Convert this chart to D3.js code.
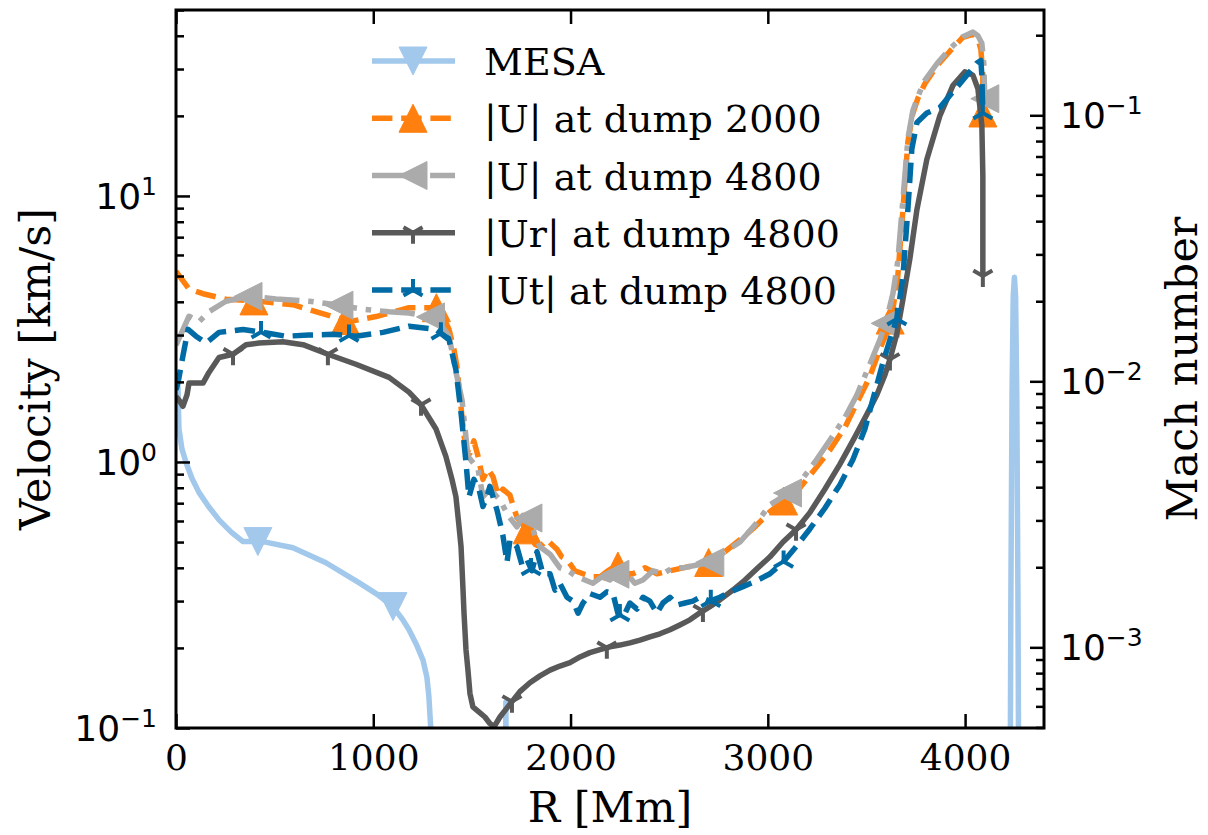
<!DOCTYPE html>
<html>
<head>
<meta charset="utf-8">
<script src="https://cdn.jsdelivr.net/npm/d3@7"></script>
<style>
    body { margin: 0; background: #fff; }
    text { font-family: "DejaVu Serif", serif; fill: #000; }
    .math { font-family: "DejaVu Sans", sans-serif; }
</style>
</head>
<body>
<svg id="chart" width="1208" height="835"></svg>
<script>
// R [Mm] and velocity [km/s]
var mesaR = [0, 10, 15, 30, 51, 80, 117, 165, 218, 280, 340, 441, 593, 760, 927, 1020, 1100, 1150, 1181, 1220, 1252, 1272, 1282, 1292, 1300,
    1666, 1672, 1678, 1700, 4225, 4232, 4238, 4244, 4250, 4256, 4262, 4268, 4276];
var mesaV = [2.0, 1.91, 1.33, 1.12, 0.995, 0.87, 0.767, 0.68, 0.606, 0.545, 0.502, 0.502, 0.476, 0.418, 0.352, 0.318, 0.286, 0.255, 0.234, 0.205, 0.180, 0.155, 0.131, 0.098, 0.05,
    0.02, 0.125, 0.02, 0.01, 0.01, 0.3, 1.8, 4.2, 4.95, 4.2, 1.8, 0.3, 0.01];

var u2000R = [0, 66, 137, 253, 421, 593, 760, 877, 1014, 1181, 1333, 1384, 1409, 1424, 1439, 1455, 1470, 1490, 1510, 1531,
    1556, 1581, 1607, 1632, 1657, 1693, 1710, 1728, 1759, 1794, 1820, 1845, 1880, 1931, 1955, 1982, 2022, 2063, 2108, 2149, 2190, 2235,
    2276, 2316, 2377, 2438, 2504, 2570, 2641, 2706, 2783, 2859, 2935, 3011, 3087, 3163, 3239, 3315, 3391, 3452, 3517, 3568,
    3604, 3634, 3659, 3685, 3710, 3735, 3761, 3796, 3857, 3923, 3989, 4040, 4065, 4080, 4090, 4090];
var u2000V = [5.2, 4.47, 4.29, 4.09, 4.02, 3.9, 3.58, 3.37, 3.52, 3.8, 3.8, 3.15, 2.65, 2.29, 1.77, 1.36, 1.1, 1.08, 1.2, 1.05,
    0.86, 0.94, 0.88, 0.75, 0.79, 0.75, 0.68, 0.62, 0.58, 0.54, 0.49, 0.48, 0.51, 0.47, 0.44, 0.43, 0.39, 0.38, 0.37, 0.37, 0.39, 0.41,
    0.38, 0.38, 0.40, 0.38, 0.39, 0.40, 0.41, 0.42, 0.46, 0.51, 0.57, 0.65, 0.72, 0.80, 0.94, 1.11, 1.35, 1.67, 2.09, 2.66,
    3.07, 3.75, 5.0, 8.9, 16, 20.4, 23.3, 26.4, 30.8, 35, 39.5, 40.5, 39, 35.5, 28.5, 20.5];

var u4800R = [0, 66, 117, 167, 253, 370, 507, 674, 811, 948, 1080, 1181, 1318, 1384, 1419, 1450, 1480, 1505, 1531, 1556,
    1591, 1642, 1683, 1728, 1759, 1794, 1820, 1845, 1896, 1946, 1987, 2033, 2073, 2113, 2159, 2200, 2240, 2286, 2326, 2367, 2418,
    2468, 2519, 2570, 2641, 2706, 2783, 2859, 2935, 3011, 3087, 3163, 3239, 3315, 3391, 3452, 3517, 3568, 3604, 3634, 3659,
    3685, 3710, 3735, 3761, 3796, 3857, 3923, 3989, 4040, 4065, 4085, 4095, 4100];
var u4800V = [2.75, 3.53, 3.37, 3.67, 4.02, 4.2, 4.1, 4.02, 3.9, 3.75, 3.67, 3.63, 3.48, 2.97, 2.18, 1.71, 1.05, 0.995, 0.94, 0.74,
    0.79, 0.72, 0.63, 0.57, 0.63, 0.61, 0.53, 0.48, 0.45, 0.40, 0.39, 0.37, 0.36, 0.35, 0.37, 0.36, 0.39, 0.38, 0.35, 0.36, 0.39,
    0.38, 0.40, 0.40, 0.41, 0.42, 0.46, 0.50, 0.58, 0.69, 0.75, 0.84, 1.0, 1.21, 1.47, 1.79, 2.33, 2.88, 3.48, 4.29, 5.7,
    9.7, 16.4, 20.9, 23.7, 27.2, 31.4, 35.8, 39.7, 41.3, 40, 37.5, 31.3, 23.2];

var urR = [0, 15, 35, 56, 66, 101, 137, 167, 218, 289, 355, 421, 542, 644, 770, 912, 1080, 1181, 1242, 1318,
    1368, 1399, 1419, 1434, 1445, 1455, 1460, 1470, 1480, 1490, 1505, 1541, 1566, 1591, 1612, 1642, 1678, 1708, 1743, 1794,
    1845, 1896, 1946, 1997, 2048, 2098, 2149, 2200, 2250, 2301, 2352, 2402, 2453, 2504, 2554, 2605, 2656, 2706, 2757, 2823,
    2884, 2950, 3011, 3077, 3143, 3213, 3289, 3365, 3441, 3502, 3553, 3594, 3619, 3654, 3685, 3720, 3756, 3806, 3872, 3938,
    3999, 4040, 4065, 4085, 4090, 4090];
var urV = [1.76, 1.71, 1.62, 1.79, 1.98, 1.98, 1.98, 2.17, 2.47, 2.54, 2.76, 2.8, 2.83, 2.76, 2.54, 2.33, 2.08, 1.83, 1.64, 1.33,
    1.05, 0.86, 0.74, 0.58, 0.48, 0.33, 0.27, 0.197, 0.165, 0.135, 0.12, 0.114, 0.11, 0.104, 0.101, 0.11, 0.119, 0.127, 0.137, 0.148,
    0.157, 0.165, 0.171, 0.176, 0.185, 0.192, 0.197, 0.202, 0.205, 0.209, 0.214, 0.22, 0.226, 0.234, 0.244, 0.255, 0.271, 0.286, 0.303, 0.33,
    0.36, 0.40, 0.44, 0.50, 0.556, 0.645, 0.79, 0.98, 1.24, 1.51, 1.79, 2.13, 2.43, 3.03, 4.09, 5.8, 8.9, 13.7, 20, 26,
    29.3, 28.4, 25.3, 18.4, 11.9, 5.0];

var utR = [0, 10, 35, 61, 101, 152, 218, 340, 441, 558, 674, 796, 912, 1049, 1181, 1318, 1384, 1419, 1445, 1470,
    1485, 1510, 1536, 1556, 1581, 1591, 1627, 1657, 1678, 1693, 1728, 1754, 1779, 1804, 1830, 1860, 1896, 1921, 1946, 1982,
    2012, 2038, 2063, 2098, 2149, 2184, 2215, 2240, 2266, 2301, 2337, 2367, 2402, 2438, 2468, 2504, 2539, 2580, 2620, 2656,
    2706, 2757, 2793, 2833, 2874, 2935, 3011, 3077, 3143, 3213, 3289, 3365, 3431, 3492, 3528, 3584, 3619, 3654, 3685, 3710,
    3730, 3756, 3806, 3872, 3938, 4009, 4060, 4080, 4085, 4090];
var utV = [1.87, 1.98, 2.5, 3.15, 2.97, 2.8, 3.07, 3.15, 3.07, 2.97, 3.0, 3.02, 2.97, 3.07, 3.24, 3.15, 2.88, 2.22, 1.53, 0.995,
    0.74, 0.86, 0.79, 0.68, 0.76, 0.81, 0.66, 0.53, 0.42, 0.51, 0.48, 0.41, 0.43, 0.39, 0.46, 0.38, 0.38, 0.33, 0.35, 0.31,
    0.30, 0.27, 0.295, 0.32, 0.31, 0.325, 0.32, 0.27, 0.26, 0.295, 0.28, 0.31, 0.30, 0.27, 0.295, 0.31, 0.29, 0.295, 0.30, 0.31,
    0.30, 0.31, 0.32, 0.33, 0.34, 0.355, 0.38, 0.42, 0.48, 0.56, 0.67, 0.82, 1.02, 1.33, 1.67, 2.37, 2.88, 3.45, 5.0, 8.9,
    15, 18.9, 20.5, 21.5, 24.6, 28.4, 31.6, 32.3, 28.4, 20.5];

// R positions where the markers sit (markevery)
var mesaMarks = [415, 1100];
var u2000Marks = [395, 858, 1320, 1780, 2240, 2700, 3080, 3620, 4090];
var u4800Marks = [365, 826, 1290, 1784, 2225, 2706, 3100, 3595, 4100];
var urMarks = [289, 770, 1242, 1703, 2184, 2671, 3143, 3619, 4090];
var utMarks = [431, 877, 1343, 1800, 2250, 2711, 3080, 3654, 4090];

var labels = ["MESA", "|U| at dump 2000", "|U| at dump 4800", "|Ur| at dump 4800", "|Ut| at dump 4800"];
var xTicks = [0, 1000, 2000, 3000, 4000];
var soundSpeed = 201; // km/s, ratio between the two y axes

var plot = {left: 176, right: 1044, top: 10, bottom: 728};
var LW = 5.5;

var series = [
    {r: mesaR, v: mesaV, marks: mesaMarks, color: "#A2C8EC", dash: null, marker: "tdown"},
    {r: u2000R, v: u2000V, marks: u2000Marks, color: "#FF800E", dash: "20.4,8.8", marker: "tup"},
    {r: u4800R, v: u4800V, marks: u4800Marks, color: "#ABABAB", dash: "35,8.8,5.5,8.8", marker: "tleft"},
    {r: urR, v: urV, marks: urMarks, color: "#595959", dash: null, marker: "tri_down"},
    {r: utR, v: utV, marks: utMarks, color: "#006BA4", dash: "20.4,8.8", marker: "tri_up"}
];

var x = d3.scaleLinear().domain([0, 4400]).range([plot.left, plot.right]);
var y = d3.scaleLog().domain([0.1, 50]).range([plot.bottom, plot.top]);
var mach = d3.scaleLog().domain([0.1 / soundSpeed, 50 / soundSpeed]).range([plot.bottom, plot.top]);

var svg = d3.select("#chart");

svg.append("clipPath").attr("id", "clip")
    .append("rect")
    .attr("x", plot.left).attr("y", plot.top)
    .attr("width", plot.right - plot.left).attr("height", plot.bottom - plot.top);

// marker shapes, s = half size
function markerPath(type, s) {
    if (type === "tdown") return "M" + (-s) + "," + (-s) + "L" + s + "," + (-s) + "L0," + s + "Z";
    if (type === "tup") return "M" + (-s) + "," + s + "L" + s + "," + s + "L0," + (-s) + "Z";
    if (type === "tleft") return "M" + s + "," + (-s) + "L" + s + "," + s + "L" + (-s) + ",0Z";
    var c = 0.866 * s, h = 0.5 * s;
    if (type === "tri_down") return "M0,0L0," + s + "M0,0L" + (-c) + "," + (-h) + "M0,0L" + c + "," + (-h);
    return "M0,0L0," + (-s) + "M0,0L" + (-c) + "," + h + "M0,0L" + c + "," + h;
}

function drawMarker(g, type, color, px, py) {
    var filled = type.indexOf("tri_") !== 0;
    g.append("path")
        .attr("transform", "translate(" + px + "," + py + ")")
        .attr("d", markerPath(type, filled ? 14 : 11))
        .attr("fill", filled ? color : "none")
        .attr("stroke", color)
        .attr("stroke-width", filled ? 1 : 4)
        .attr("stroke-linejoin", "miter");
}

// value of a series at radius r (for marker placement)
function valueAt(s, r) {
    var i = d3.bisectRight(s.r, r);
    if (i <= 0) return s.v[0];
    if (i >= s.r.length) return s.v[s.v.length - 1];
    var r0 = s.r[i - 1], r1 = s.r[i];
    var t = r1 === r0 ? 1 : (r - r0) / (r1 - r0);
    return Math.pow(10, Math.log10(s.v[i - 1]) * (1 - t) + Math.log10(s.v[i]) * t);
}

var line = d3.line()
    .x(function(d) { return x(d[0]); })
    .y(function(d) { return y(d[1]); });

var lines = svg.append("g").attr("clip-path", "url(#clip)");

series.forEach(function(s) {
    var pts = s.r.map(function(r, i) { return [r, s.v[i]]; });
    lines.append("path")
        .attr("d", line(pts))
        .attr("fill", "none")
        .attr("stroke", s.color)
        .attr("stroke-width", LW)
        .attr("stroke-linejoin", "round")
        .attr("stroke-dasharray", s.dash);
    s.marks.forEach(function(r) {
        drawMarker(lines, s.marker, s.color, x(r), y(valueAt(s, r)));
    });
});

// axes: ticks point inwards, log labels are added by hand below
function cleanAxis(g) {
    g.select(".domain").remove();
    g.selectAll(".tick line").attr("stroke", "#000").attr("stroke-width", 2.5);
}

function minorTicks(scale) {
    var d = scale.domain(), out = [];
    for (var e = Math.floor(Math.log10(d[0])); e <= Math.ceil(Math.log10(d[1])); e++) {
        for (var k = 2; k <= 9; k++) {
            var v = k * Math.pow(10, e);
            if (v >= d[0] * 0.999 && v <= d[1] * 1.001) out.push(v);
        }
    }
    return out;
}

function majorTicks(scale) {
    var d = scale.domain(), out = [];
    for (var e = Math.ceil(Math.log10(d[0]) - 1e-9); e <= Math.floor(Math.log10(d[1]) + 1e-9); e++) out.push(Math.pow(10, e));
    return out;
}

svg.append("g").attr("transform", "translate(0," + plot.bottom + ")")
    .call(d3.axisBottom(x).tickValues(xTicks).tickSize(-14).tickPadding(16).tickFormat(d3.format("d")))
    .call(cleanAxis)
    .selectAll("text").attr("font-size", 36).attr("font-family", "DejaVu Serif").attr("fill", "#000");

svg.append("g").attr("transform", "translate(0," + plot.top + ")")
    .call(d3.axisTop(x).tickValues(xTicks).tickSize(-14).tickFormat(""))
    .call(cleanAxis);

svg.append("g").attr("transform", "translate(" + plot.left + ",0)")
    .call(d3.axisLeft(y).tickValues(majorTicks(y)).tickSize(-14).tickFormat(""))
    .call(cleanAxis);
svg.append("g").attr("transform", "translate(" + plot.left + ",0)")
    .call(d3.axisLeft(y).tickValues(minorTicks(y)).tickSize(-8).tickFormat(""))
    .call(cleanAxis);

svg.append("g").attr("transform", "translate(" + plot.right + ",0)")
    .call(d3.axisRight(mach).tickValues(majorTicks(mach)).tickSize(-14).tickFormat(""))
    .call(cleanAxis);
svg.append("g").attr("transform", "translate(" + plot.right + ",0)")
    .call(d3.axisRight(mach).tickValues(minorTicks(mach)).tickSize(-8).tickFormat(""))
    .call(cleanAxis);

// 10^n labels, mathtext style
function powLabel(sel, v) {
    var e = Math.round(Math.log10(v));
    sel.append("tspan").text("10");
    sel.append("tspan").attr("dy", -14).attr("font-size", 25).text(String(e).replace("-", "\u2212"));
}

majorTicks(y).forEach(function(v) {
    var t = svg.append("text").attr("class", "math")
        .attr("x", 157).attr("y", y(v) + 13)
        .attr("text-anchor", "end").attr("font-size", 36);
    powLabel(t, v);
});
majorTicks(mach).forEach(function(v) {
    var t = svg.append("text").attr("class", "math")
        .attr("x", 1060).attr("y", mach(v) + 13)
        .attr("text-anchor", "start").attr("font-size", 36);
    powLabel(t, v);
});

// spines
svg.append("rect")
    .attr("x", plot.left).attr("y", plot.top)
    .attr("width", plot.right - plot.left).attr("height", plot.bottom - plot.top)
    .attr("fill", "none").attr("stroke", "#000").attr("stroke-width", 3);

// axis titles
svg.append("text").attr("x", (plot.left + plot.right) / 2).attr("y", 822)
    .attr("text-anchor", "middle").attr("font-size", 43).text("R [Mm]");
svg.append("text").attr("transform", "translate(50," + (plot.top + plot.bottom) / 2 + ") rotate(-90)")
    .attr("text-anchor", "middle").attr("font-size", 43).text("Velocity [km/s]");
svg.append("text").attr("transform", "translate(1197," + (plot.top + plot.bottom) / 2 + ") rotate(-90)")
    .attr("text-anchor", "middle").attr("font-size", 43).text("Mach number");

// legend, no frame
var legend = svg.append("g");
var rowY = d3.scaleLinear().domain([0, 4]).range([61, 290]);
series.forEach(function(s, i) {
    var cy = rowY(i);
    legend.append("line")
        .attr("x1", 372).attr("x2", 455).attr("y1", cy).attr("y2", cy)
        .attr("stroke", s.color).attr("stroke-width", LW)
        .attr("stroke-dasharray", s.dash);
    drawMarker(legend, s.marker, s.color, 413, cy);
    legend.append("text").attr("x", 484).attr("y", cy + 14)
        .attr("font-size", 38).text(labels[i]);
});
</script>
</body>
</html>
